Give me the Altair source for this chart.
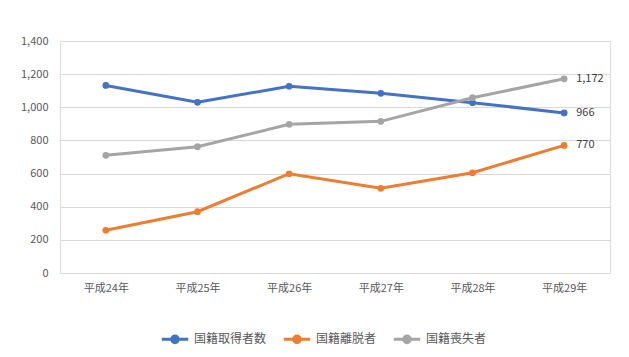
import altair as alt
import pandas as pd

years = ["平成24年", "平成25年", "平成26年", "平成27年", "平成28年", "平成29年"]
series_names = ["国籍取得者数", "国籍離脱者", "国籍喪失者"]
acquired = [1132, 1030, 1127, 1084, 1028, 966]
renounced = [258, 370, 599, 511, 605, 770]
lost = [710, 762, 897, 915, 1058, 1172]
colors = ["#4472C4", "#ED7D31", "#A5A5A5"]
y_ticks = [0, 200, 400, 600, 800, 1000, 1200, 1400]

rows = []
for name, vals in zip(series_names, [acquired, renounced, lost]):
    for y, v in zip(years, vals):
        rows.append({"year": y, "series": name, "value": v, "last": y == years[-1]})
df = pd.DataFrame(rows)

FONT = "Noto Sans CJK JP"

x = alt.X("year:N", sort=years, scale=alt.Scale(domain=years, paddingInner=0, paddingOuter=0),
          axis=alt.Axis(title=None, labelAngle=0, ticks=False, domain=True, domainColor="#D9D9D9",
                        labelPadding=9, labelFontSize=11, labelColor="#595959", labelFont=FONT, grid=False))
y = alt.Y("value:Q", scale=alt.Scale(domain=[0, 1400], nice=False),
          axis=alt.Axis(title=None, values=y_ticks, format=",.0f", ticks=False, domain=False,
                        labelPadding=12, labelFontSize=11, labelColor="#595959", labelFont=FONT,
                        gridColor="#D9D9D9", gridWidth=1))
color = alt.Color("series:N", sort=series_names,
                  scale=alt.Scale(domain=series_names, range=colors),
                  legend=alt.Legend(title=None, orient="none", direction="horizontal",
                                    legendX=100, legendY=283,
                                    symbolType="M-1,0H1M-0.25,0A0.25,0.25,0,1,1,0.25,0A0.25,0.25,0,1,1,-0.25,0",
                                    symbolSize=700, symbolStrokeWidth=3,
                                    labelFont=FONT, labelFontSize=12, labelColor="#595959",
                                    columnPadding=10, labelOffset=4))

base = alt.Chart(df)
lines = base.mark_line(strokeWidth=3).encode(x=x, y=y, color=color)
points = base.mark_circle(size=45, opacity=1).encode(x=x, y=y, color=alt.Color("series:N", sort=series_names, scale=alt.Scale(domain=series_names, range=colors), legend=None))
labels = base.transform_filter("datum.last").mark_text(align="left", dx=12, fontSize=11, font=FONT, color="#404040").encode(
    x=x, y=y, text=alt.Text("value:Q", format=",.0f"))

chart = alt.layer(lines, points, labels).properties(
    width=550, height=232,
    autosize=alt.AutoSizeParams(type="none"),
    padding={"left": 52, "top": 33, "right": 11, "bottom": 76},
).configure_view(stroke=None).configure(background="white")

chart.save("out.html", embed_options={"renderer": "svg", "actions": False})
